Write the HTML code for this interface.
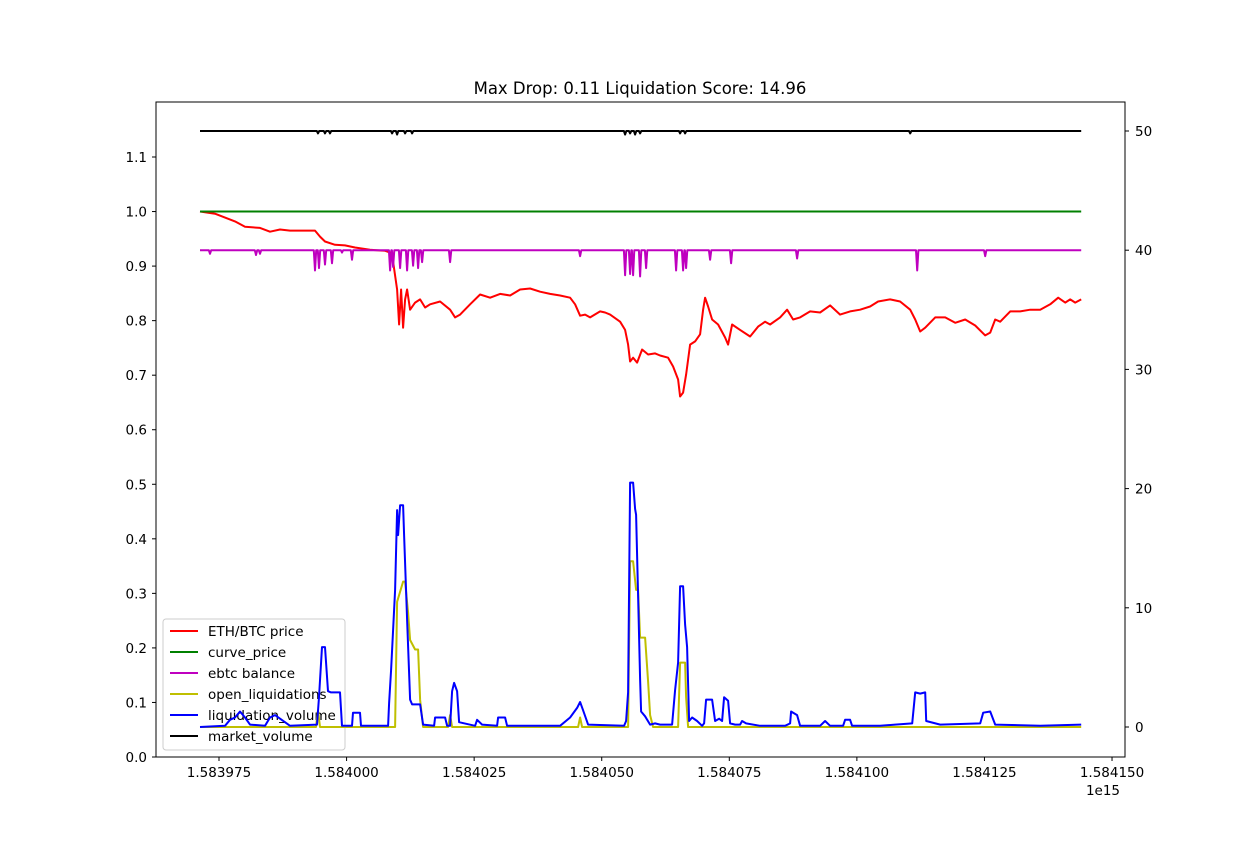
<!DOCTYPE html>
<html><head><meta charset="utf-8"><style>
html,body{margin:0;padding:0;background:#fff;}
svg{display:block;font-family:"DejaVu Sans","Liberation Sans",sans-serif;}
</style></head><body>
<svg id="chart" width="1250" height="850" viewBox="0 0 1250 850">
<rect width="1250" height="850" fill="#fff"/>
<text x="640" y="94" font-size="16.5" text-anchor="middle" fill="#000">Max Drop: 0.11 Liquidation Score: 14.96</text>
<g id="leftLines"></g>
<g id="legend">
<rect x="163" y="619" width="182" height="131" rx="3" fill="#fff" fill-opacity="0.85" stroke="#ccc"/>
</g>
<g id="rightLines"></g>
<g id="axes"></g>
</svg>
<script>
// ---- data ----
const T0 = 1583971.28;          // x-axis units of 1e15 scaled (1e9 us)
const STEP = 0.196;             // per sample index
const xTicks = [1583975,1584000,1584025,1584050,1584075,1584100,1584125,1584150];
const xTickLabels = ["1.583975","1.584000","1.584025","1.584050","1.584075","1.584100","1.584125","1.584150"];
const yLeftTicks = [0,0.1,0.2,0.3,0.4,0.5,0.6,0.7,0.8,0.9,1.0,1.1];
const yLeftLabels = ["0.0","0.1","0.2","0.3","0.4","0.5","0.6","0.7","0.8","0.9","1.0","1.1"];
const yRightTicks = [0,10,20,30,40,50];
const yRightLabels = ["0","10","20","30","40","50"];
const seriesNames = ["ETH/BTC price","curve_price","ebtc balance","open_liquidations","liquidation_volume","market_volume"];

const priceIdx = [0,15,35,45,60,70,80,90,115,120,125,135,145,155,170,185,190,193,197,199,201,203,205,207,210,215,220,225,230,240,250,255,260,270,280,290,300,310,320,330,340,350,360,370,375,380,385,390,400,405,410,420,425,428,430,433,437,442,448,455,460,468,473,478,480,483,486,490,495,500,503,505,508,512,518,525,528,532,540,550,558,565,570,580,587,593,600,610,620,630,640,650,660,670,678,690,700,710,715,720,725,735,745,755,765,775,785,790,795,800,810,820,830,840,850,858,865,870,875,881];
const priceVal = [1.000,0.996,0.982,0.972,0.970,0.963,0.967,0.965,0.965,0.954,0.945,0.939,0.938,0.934,0.930,0.928,0.925,0.908,0.857,0.793,0.857,0.787,0.839,0.857,0.820,0.833,0.839,0.824,0.830,0.835,0.820,0.806,0.811,0.830,0.848,0.842,0.849,0.846,0.857,0.859,0.853,0.849,0.846,0.842,0.830,0.809,0.811,0.806,0.817,0.815,0.811,0.798,0.783,0.756,0.725,0.732,0.723,0.747,0.738,0.740,0.736,0.732,0.716,0.692,0.661,0.668,0.701,0.756,0.762,0.775,0.820,0.842,0.826,0.802,0.793,0.769,0.756,0.793,0.783,0.771,0.789,0.798,0.793,0.806,0.820,0.802,0.806,0.817,0.815,0.828,0.811,0.817,0.820,0.826,0.835,0.839,0.835,0.820,0.802,0.780,0.787,0.806,0.806,0.796,0.802,0.791,0.773,0.778,0.802,0.798,0.817,0.817,0.820,0.820,0.830,0.842,0.833,0.839,0.833,0.839];

const curveIdx = [0,881];
const curveVal = [1.0,1.0];

const liqIdx = [0,25,30,35,40,45,50,65,70,75,85,90,117,119,122,125,128,131,140,142,152,153,160,161,188,189,191,195,197,198,200,203,204,207,210,212,220,223,234,235,245,247,250,252,254,257,259,275,277,282,297,298,305,307,360,370,377,380,383,388,424,426,428,430,433,435,436,438,440,441,445,450,455,460,472,475,478,480,483,485,487,489,492,497,502,504,506,512,515,519,522,524,528,530,535,540,542,546,560,585,590,591,597,600,620,625,630,643,645,650,652,680,695,712,715,720,725,726,740,780,783,790,795,840,881];
const liqVal = [0,0.1,0.6,0.8,1.3,0.8,0.2,0.1,0.8,1.0,0.4,0.1,0.2,2.5,6.7,6.7,3.0,2.9,2.9,0.1,0.1,1.2,1.2,0.1,0.1,2.0,4.8,11.5,18.2,16.1,18.6,18.6,16.1,9.0,2.3,1.9,1.9,0.2,0.1,0.8,0.8,0.1,0.1,3.0,3.7,3.0,0.4,0.1,0.6,0.2,0.1,0.8,0.8,0.1,0.1,0.8,1.6,2.1,1.4,0.2,0.1,0.5,2.9,20.5,20.5,18.3,17.8,11.0,4.0,1.3,0.9,0.2,0.3,0.2,0.2,3.1,5.4,11.8,11.8,8.6,6.7,0.5,0.8,0.5,0.1,0.3,2.3,2.3,0.5,0.7,0.5,2.5,2.2,0.3,0.2,0.2,0.5,0.3,0.1,0.1,0.3,1.3,1.0,0.1,0.1,0.5,0.1,0.1,0.6,0.6,0.1,0.1,0.2,0.3,2.9,2.8,2.9,0.5,0.2,0.3,1.2,1.3,0.2,0.1,0.2];

const openIdx = [0,116,118,120,195,197,203,205,208,210,215,218,220,223,248,250,252,378,380,382,428,430,433,436,438,440,445,448,450,453,478,480,485,486,488,881];
const openVal = [0,0,1.4,0,0,10.5,12.2,12.2,9.6,7.3,6.5,6.5,2.3,0,0,1.0,0,0,0.8,0,0,13.9,13.9,11.5,11.5,7.5,7.5,3.8,1.0,0,0,5.4,5.4,2.5,0,0];

const ebtcBase = 40.0;
const ebtcDipIdx = [10,56,60,115,119,125,132,142,152,190,193,200,207,213,218,222,250,380,425,430,433,440,446,476,483,486,510,531,597,717,785];
const ebtcDipVal = [39.7,39.6,39.7,38.3,38.5,38.8,38.9,39.8,39.2,38.3,38.6,38.5,38.3,38.7,38.5,39.0,39.0,39.5,37.9,38.0,37.9,37.8,38.5,38.3,38.3,38.5,39.2,38.9,39.3,38.3,39.5];

const mktBase = 50.0;
const mktDipIdx = [118,125,130,192,197,205,212,425,430,435,440,480,485,710];
const mktDipVal = [49.8,49.8,49.8,49.8,49.7,49.8,49.8,49.7,49.8,49.7,49.8,49.8,49.8,49.8];

// ---- scales ----
const PL=156, PR=1125, PT=102, PB=757;
function xT(ts){ return 219 + (ts - 1583975) * 5.103; }
function xI(i){ return xT(T0 + i * STEP); }
function yL(v){ return 757 - v * 545.45; }
function yR(v){ return 727 - v * 11.92; }

const NS = "http://www.w3.org/2000/svg";
function mk(tag, parent){ const e = document.createElementNS(NS, tag); parent.appendChild(e); return e; }
function pathFrom(idx, val, ys){ let d=""; for(let k=0;k<idx.length;k++){ d += (k?"L":"M") + xI(idx[k]).toFixed(1) + "," + ys(val[k]).toFixed(1); } return d; }
function dipPath(base, di, dv, ys){
  let d = "M" + xI(0).toFixed(1) + "," + ys(base).toFixed(1);
  for(let k=0;k<di.length;k++){
    d += "L" + xI(di[k]-1.2).toFixed(1) + "," + ys(base).toFixed(1);
    d += "L" + xI(di[k]).toFixed(1) + "," + ys(dv[k]).toFixed(1);
    d += "L" + xI(di[k]+1.2).toFixed(1) + "," + ys(base).toFixed(1);
  }
  d += "L" + xI(881).toFixed(1) + "," + ys(base).toFixed(1);
  return d;
}
function line(parent, d, color, name){
  const p = mk("path", parent);
  p.setAttribute("d", d); p.setAttribute("fill","none"); p.setAttribute("stroke", color);
  p.setAttribute("stroke-width","2"); p.setAttribute("stroke-linejoin","round");
  
  
}

const L = document.getElementById("leftLines");
line(L, pathFrom(priceIdx, priceVal, yL), "#ff0000", "eth-btc-price-line");
line(L, pathFrom(curveIdx, curveVal, yL), "#008000", "curve-price-line");

const R = document.getElementById("rightLines");
line(R, dipPath(ebtcBase, ebtcDipIdx, ebtcDipVal, yR), "#bf00bf", "ebtc-balance-line");
line(R, pathFrom(openIdx, openVal, yR), "#bfbf00", "open-liquidations-line");
line(R, pathFrom(liqIdx, liqVal, yR), "#0000ff", "liquidation-volume-line");
line(R, dipPath(mktBase, mktDipIdx, mktDipVal, yR), "#000000", "market-volume-line");

// legend
const colors = ["#ff0000","#008000","#bf00bf","#bfbf00","#0000ff","#000000"];
const G = document.getElementById("legend");
for(let k=0;k<seriesNames.length;k++){
  const y = 631 + k*21;
  const ln = mk("line", G);
  ln.setAttribute("x1",170); ln.setAttribute("x2",198); ln.setAttribute("y1",y); ln.setAttribute("y2",y);
  ln.setAttribute("stroke", colors[k]); ln.setAttribute("stroke-width","2");
  
  
  const t = mk("text", G);
  t.setAttribute("x",208); t.setAttribute("y",y+5); t.setAttribute("font-size","13.5");
  t.textContent = seriesNames[k];
  
  
}

// axes
const A = document.getElementById("axes");
const fr = mk("rect", A);
fr.setAttribute("x",PL); fr.setAttribute("y",PT); fr.setAttribute("width",PR-PL); fr.setAttribute("height",PB-PT);
fr.setAttribute("fill","none"); fr.setAttribute("stroke","#000"); fr.setAttribute("stroke-width","1");


for(let k=0;k<xTicks.length;k++){
  const x = xT(xTicks[k]);
  const tk = mk("line", A);
  tk.setAttribute("x1",x); tk.setAttribute("x2",x); tk.setAttribute("y1",PB); tk.setAttribute("y2",PB+4); tk.setAttribute("stroke","#000");
  
  
  const t = mk("text", A);
  t.setAttribute("x",x); t.setAttribute("y",777); t.setAttribute("font-size","13.5"); t.setAttribute("text-anchor","middle");
  t.textContent = xTickLabels[k];
  
  
}
const off = mk("text", A);
off.setAttribute("x",1103); off.setAttribute("y",795); off.setAttribute("font-size","13.5"); off.setAttribute("text-anchor","middle");
off.textContent = "1e15";


for(let k=0;k<yLeftTicks.length;k++){
  const y = yL(yLeftTicks[k]);
  const tk = mk("line", A);
  tk.setAttribute("x1",PL-4); tk.setAttribute("x2",PL); tk.setAttribute("y1",y); tk.setAttribute("y2",y); tk.setAttribute("stroke","#000");
  
  
  const t = mk("text", A);
  t.setAttribute("x",147); t.setAttribute("y",y+5); t.setAttribute("font-size","13.5"); t.setAttribute("text-anchor","end");
  t.textContent = yLeftLabels[k];
  
  
}
for(let k=0;k<yRightTicks.length;k++){
  const y = yR(yRightTicks[k]);
  const tk = mk("line", A);
  tk.setAttribute("x1",PR); tk.setAttribute("x2",PR+4); tk.setAttribute("y1",y); tk.setAttribute("y2",y); tk.setAttribute("stroke","#000");
  
  
  const t = mk("text", A);
  t.setAttribute("x",1135); t.setAttribute("y",y+5); t.setAttribute("font-size","13.5");
  t.textContent = yRightLabels[k];
  
  
}
</script>
</body></html>
